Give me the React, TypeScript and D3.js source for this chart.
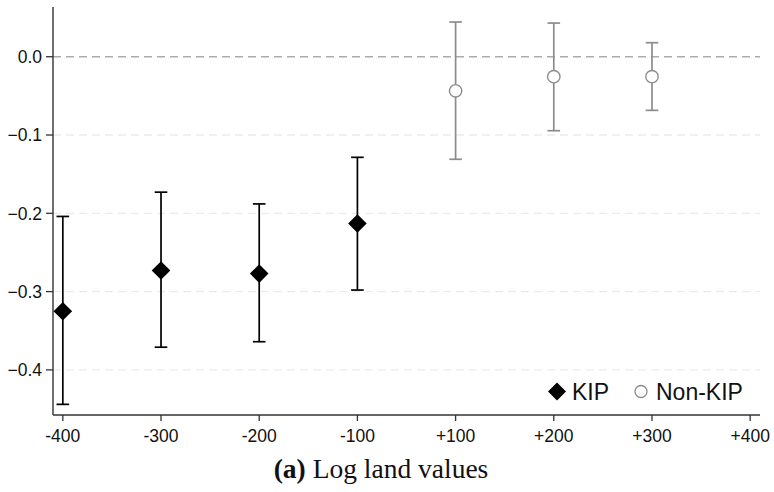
import React from 'react';
import * as d3 from 'd3';

// categories along the x axis
const bins = ['-400', '-300', '-200', '-100', '+100', '+200', '+300', '+400'];

// KIP estimates (pre-period bins)
const kipBins = ['-400', '-300', '-200', '-100'];
const kipEst = [-0.325, -0.273, -0.277, -0.213];
const kipLo = [-0.444, -0.371, -0.364, -0.298];
const kipHi = [-0.204, -0.173, -0.188, -0.1285];

// Non-KIP estimates (post-period bins)
const nonBins = ['+100', '+200', '+300'];
const nonEst = [-0.0435, -0.0255, -0.0255];
const nonLo = [-0.131, -0.0945, -0.0685];
const nonHi = [0.0443, 0.043, 0.0179];

const yTicks = [0.0, -0.1, -0.2, -0.3, -0.4];

const W = 774;
const H = 492;
const margin = { top: 7, right: 14, bottom: 77, left: 53 };

const App = () => {
  const x = d3
    .scaleLinear()
    .domain([-0.1, bins.length - 1 + 0.1])
    .range([margin.left, W - margin.right]);
  const xPos = (b: string) => x(bins.indexOf(b));

  const y = d3
    .scaleLinear()
    .domain([-0.4576, 0.0635])
    .range([H - margin.bottom, margin.top]);

  const x0 = margin.left;
  const x1 = W - margin.right;
  const yBottom = H - margin.bottom;
  const cap = 6.3;
  const dSize = 9.3;
  const diamond = (cx: number, cy: number, s: number) =>
    `M${cx},${cy - s}L${cx + s},${cy}L${cx},${cy + s}L${cx - s},${cy}Z`;

  const tickFont = 'Liberation Sans, Arial, sans-serif';
  const kipColor = '#000';
  const nonColor = '#8c8c8c';

  return (
    <svg width={W} height={H} style={{ display: 'block', position: 'absolute', left: 0, top: 0 }}>
      <rect width={W} height={H} fill="#fff" />

      {/* grid lines */}
      {yTicks.map((t) => (
        <line
          key={'g' + t}
          x1={x0}
          x2={x1}
          y1={y(t)}
          y2={y(t)}
          stroke={t === 0 ? '#ababab' : '#ebebeb'}
          strokeWidth={t === 0 ? 1.6 : 1.3}
          strokeDasharray="8,5"
        />
      ))}

      {/* axes */}
      <line x1={x0} x2={x0} y1={margin.top} y2={yBottom} stroke="#333" strokeWidth={1.4} />
      <line x1={x0} x2={x1} y1={yBottom} y2={yBottom} stroke="#333" strokeWidth={1.4} />

      {yTicks.map((t) => (
        <g key={'yt' + t}>
          <line x1={x0 - 7} x2={x0} y1={y(t)} y2={y(t)} stroke="#333" strokeWidth={1.3} />
          <text
            x={x0 - 11}
            y={y(t)}
            dy="0.36em"
            textAnchor="end"
            fontFamily={tickFont}
            fontSize={17.5}
            fill="#111"
          >
            {d3.format('.1f')(t)}
          </text>
        </g>
      ))}

      {bins.map((b) => (
        <g key={'xt' + b}>
          <line x1={xPos(b)} x2={xPos(b)} y1={yBottom} y2={yBottom + 6} stroke="#333" strokeWidth={1.3} />
          <text
            x={xPos(b)}
            y={yBottom + 27}
            textAnchor="middle"
            fontFamily={tickFont}
            fontSize={17.5}
            fill="#111"
          >
            {b}
          </text>
        </g>
      ))}

      {/* Non-KIP error bars */}
      {nonBins.map((b, i) => (
        <g key={'n' + b} stroke={nonColor} strokeWidth={1.7} fill="none">
          <line x1={xPos(b)} x2={xPos(b)} y1={y(nonHi[i])} y2={y(nonLo[i])} />
          <line x1={xPos(b) - cap} x2={xPos(b) + cap} y1={y(nonHi[i])} y2={y(nonHi[i])} />
          <line x1={xPos(b) - cap} x2={xPos(b) + cap} y1={y(nonLo[i])} y2={y(nonLo[i])} />
          <circle cx={xPos(b)} cy={y(nonEst[i])} r={6.2} fill="#fff" strokeWidth={1.4} />
        </g>
      ))}

      {/* KIP error bars */}
      {kipBins.map((b, i) => (
        <g key={'k' + b} stroke={kipColor} strokeWidth={1.7}>
          <line x1={xPos(b)} x2={xPos(b)} y1={y(kipHi[i])} y2={y(kipLo[i])} />
          <line x1={xPos(b) - cap} x2={xPos(b) + cap} y1={y(kipHi[i])} y2={y(kipHi[i])} />
          <line x1={xPos(b) - cap} x2={xPos(b) + cap} y1={y(kipLo[i])} y2={y(kipLo[i])} />
          <path d={diamond(xPos(b), y(kipEst[i]), dSize)} fill={kipColor} stroke="none" />
        </g>
      ))}

      {/* legend */}
      <g fontFamily={tickFont} fontSize={23} fill="#111">
        <path d={diamond(557, 391.5, 9)} fill={kipColor} />
        <text x={572} y={400}>KIP</text>
        <circle cx={641} cy={391.5} r={6} fill="#fff" stroke={nonColor} strokeWidth={1.3} />
        <text x={656} y={400}>Non-KIP</text>
      </g>

      {/* caption */}
      <text
        x={381}
        y={478}
        textAnchor="middle"
        fontFamily="Liberation Serif, Times New Roman, serif"
        fontSize={27.5}
        fill="#111"
      >
        <tspan fontWeight="bold">(a)</tspan> Log land values
      </text>
    </svg>
  );
};

export default App;
